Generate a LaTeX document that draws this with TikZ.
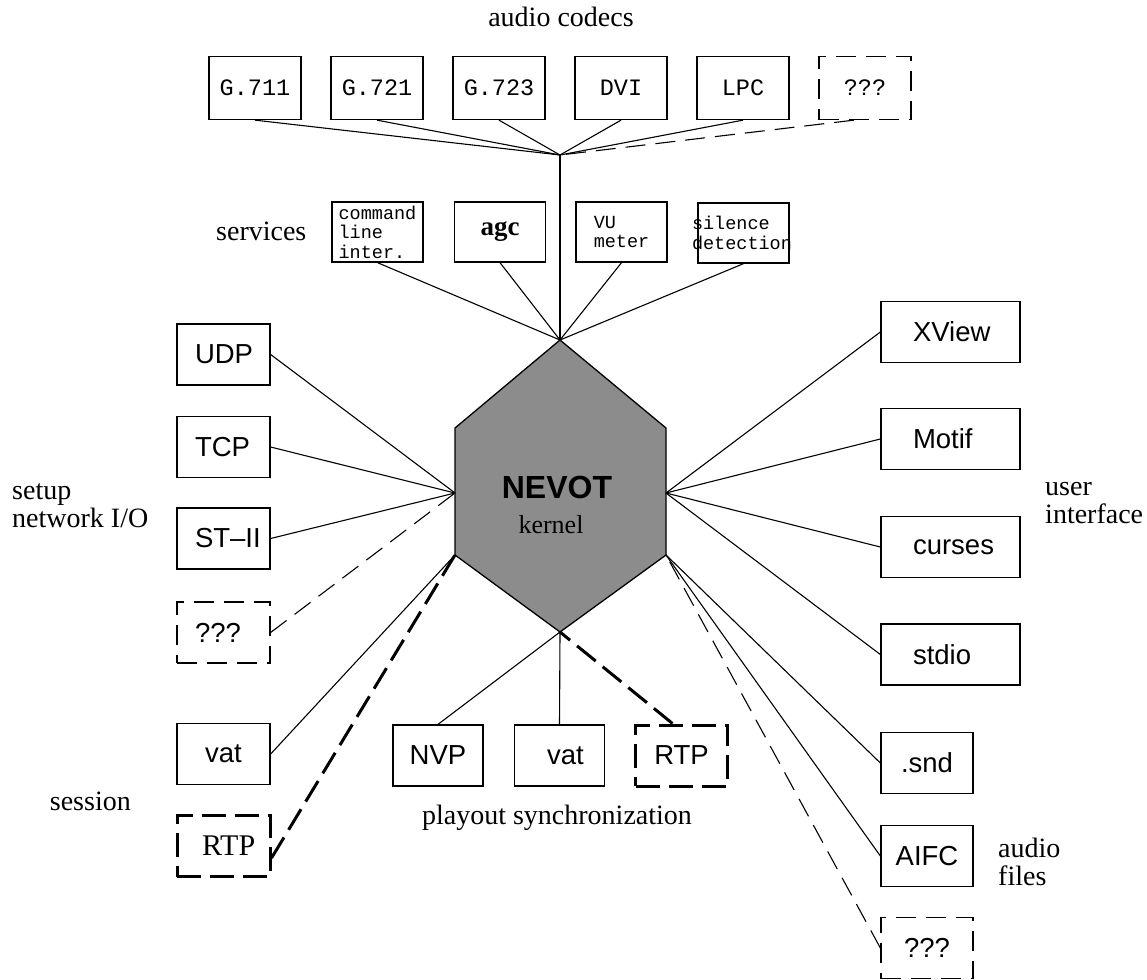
\documentclass[tikz,border=0pt]{standalone}
\usepackage{fontspec}
\setmainfont{Liberation Serif}
\setsansfont{Liberation Sans}
\setmonofont{Liberation Mono}
\newcommand\LeftLab[1]{\makebox[93pt][l]{\hspace{18pt}#1}}
\newcommand\RightLab[1]{\makebox[139pt][l]{\hspace{32pt}#1}}
\begin{document}
\begin{tikzpicture}[x=1pt,y=-1pt,
  box/.style={draw, line width=1.3pt, inner sep=0pt, minimum height=61pt, minimum width=92pt},
  sf/.style={font=\sffamily\fontsize{27.5}{30}\selectfont},
  rmlab/.style={font=\rmfamily\fontsize{28}{28}\selectfont, inner sep=0pt},
  codec/.style={box, minimum height=63pt, font=\ttfamily\fontsize{23.5}{25}\selectfont},
  serv/.style={box, minimum width=91pt, minimum height=60pt, align=left, font=\ttfamily\fontsize{18.5}{19.5}\selectfont},
  lightdash/.style={dash pattern=on 20pt off 10pt},
  heavydash/.style={line width=3pt, dash pattern=on 24pt off 9pt},
  conn/.style={line width=1.1pt},
]
\fill[white] (0,0) rectangle (1147,979);
\useasboundingbox (0,0) rectangle (1147,979);

% hexagon kernel
\coordinate (J) at (560,155);
\coordinate (HT) at (560,340);
\coordinate (HUR) at (666,428);
\coordinate (HR) at (666,493);
\coordinate (HLR) at (666,555);
\coordinate (HB) at (560,632);
\coordinate (HLL) at (455,555);
\coordinate (HL) at (455,493);
\coordinate (HUL) at (455,428);
\filldraw[fill=black!45, line width=1.3pt] (HT) -- (HUR) -- (HLR) -- (HB) -- (HLL) -- (HUL) -- cycle;
\node[font=\sffamily\bfseries\fontsize{32}{34}\selectfont, anchor=base, inner sep=0pt] (nevot) at (557,498) {NEVOT};
\node[font=\rmfamily\fontsize{26}{28}\selectfont, anchor=base, inner sep=0pt] (kernel) at (551,533) {kernel};

% labels
\node[rmlab, anchor=base] (lcodecs) at (561,27) {audio codecs};
\node[rmlab, anchor=base west] (lserv) at (216,240) {services};
\node[rmlab, anchor=north west, align=left] (lsetup) at (12,484) {setup\\network I/O};
\node[rmlab, anchor=north west, align=left] (lui) at (1045,482) {user\\interface};
\node[rmlab, anchor=north west, align=left] (laf) at (998,838) {audio\\files};
\node[rmlab, anchor=base east] (lsess) at (131,810) {session};
\node[rmlab, anchor=base] (lplay) at (557,824) {playout synchronization};

% audio codecs
\node[codec] (c1) at (255,88) {G.711};
\node[codec] (c2) at (377,88) {G.721};
\node[codec] (c3) at (499,88) {G.723};
\node[codec] (c4) at (621,88) {DVI};
\node[codec] (c5) at (743,88) {LPC};
\node[codec, lightdash] (c6) at (865,88) {???};

% services
\node[serv] (s1) at (377.5,232) {command\\line\\inter.};
\node[serv] (s2) at (500,232) {};
\node[font=\rmfamily\bfseries\fontsize{27}{28}\selectfont, inner sep=0pt] (agc) at (s2.center) {agc};
\node[serv] (s3) at (621.5,232) {VU\\meter};
\node[serv, text width=91pt] (s4) at (743.5,233) {\noindent\hspace*{-6pt}silence\\\hspace*{-6pt}detection};

% setup network I/O
\node[box, sf] (udp) at (223.5,354.5) {\LeftLab{UDP}};
\node[box, sf] (tcp) at (223.5,447) {\LeftLab{TCP}};
\node[box, sf] (st2) at (223.5,538.5) {\LeftLab{ST--II}};
\node[box, sf, lightdash] (lq) at (223.5,632.5) {\LeftLab{???}};

% session
\node[box, sf, minimum width=93pt] (vat1) at (223.5,754) {vat};
\node[box, heavydash, minimum width=93pt, font=\rmfamily\fontsize{30}{32}\selectfont] (rtp1) at (223.5,846) {\makebox[93pt][l]{\hspace{25pt}RTP}};

% playout synchronization
\node[box, sf, minimum width=90pt] (nvp) at (438,755.5) {NVP};
\node[box, sf, minimum width=90pt] (vat2) at (559.5,755.5) {\makebox[89pt][l]{\hspace{32pt}vat}};
\node[box, sf, heavydash, minimum width=92pt] (rtp2) at (681.5,755.5) {RTP};

% user interface
\node[box, sf] (xview) at (950.5,332) {\RightLab{XView}};
\node[box, sf] (motif) at (950.5,439) {\RightLab{Motif}};
\node[box, sf] (curses) at (950.5,547) {\RightLab{curses}};
\node[box, sf] (stdio) at (950.5,654.5) {\RightLab{stdio}};

% audio files
\node[box, sf] (snd) at (927,763) {.snd};
\node[box, sf] (aifc) at (927,856) {AIFC};
\node[box, sf, lightdash] (rq) at (927,948) {???};

% connectors: codecs
\draw[conn] (c1.south) -- (J);
\draw[conn] (c2.south) -- (J);
\draw[conn] (c3.south) -- (J);
\draw[conn] (c4.south) -- (J);
\draw[conn] (c5.south) -- (J);
\draw[conn, lightdash] ([xshift=-11pt]c6.south) -- (J);
\draw[conn] (J) -- (HT);
% services
\draw[conn] (s1.south) -- (HT);
\draw[conn] (s2.south) -- (HT);
\draw[conn] (s3.south) -- (HT);
\draw[conn] (s4.south) -- (HT);
% network
\draw[conn] (udp.east) -- (HL);
\draw[conn] (tcp.east) -- (HL);
\draw[conn] (st2.east) -- (HL);
\draw[conn, lightdash] (lq.east) -- (HL);
% session
\draw[conn] (vat1.east) -- (HLL);
\draw[heavydash] ([yshift=-12pt]rtp1.east) -- (HLL);
% playout
\draw[conn] (nvp.north) -- (HB);
\draw[conn] (vat2.north) -- (HB);
\draw[heavydash] ([xshift=-9pt]rtp2.north) -- (HB);
% user interface
\draw[conn] (xview.west) -- (HR);
\draw[conn] (motif.west) -- (HR);
\draw[conn] (curses.west) -- (HR);
\draw[conn] (stdio.west) -- (HR);
% audio files
\draw[conn] (snd.west) -- (HLR);
\draw[conn] (aifc.west) -- (HLR);
\draw[conn, lightdash] (rq.west) -- (HLR);
\end{tikzpicture}
\end{document}
